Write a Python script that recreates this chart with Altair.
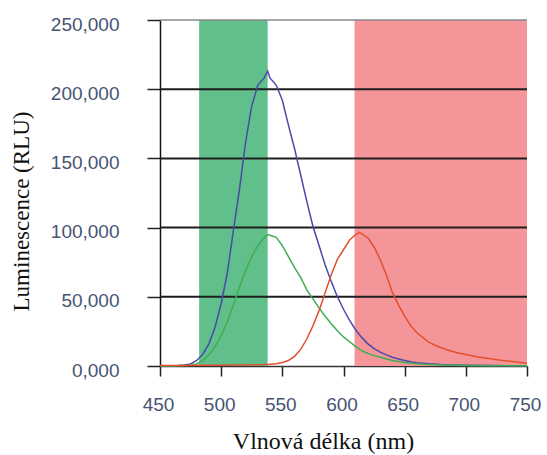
import altair as alt
import pandas as pd

# ---- data ----
blue_nm = [450,455,460,465,470,475,480,485,490,495,500,505,510,515,520,525,530,535,538,540,545,550,555,560,565,570,575,580,585,590,595,600,605,610,615,620,625,630,635,640,645,650,655,660,670,680,690,700,720,750]
blue_val = [0,0,200,400,800,1500,4000,8500,16000,28000,45000,67000,98000,128000,162000,188000,203000,208000,213000,208000,203000,192000,174000,157000,138000,119000,101000,87000,73000,61000,50000,41000,33000,26000,20500,16000,12500,10000,8000,6300,5000,4000,3000,2400,1600,1100,800,600,300,100]

green_nm = [450,460,470,475,480,485,490,495,500,505,510,515,520,525,530,535,538,540,545,550,555,560,565,570,575,580,585,590,595,600,605,610,615,620,625,630,635,640,645,650,660,670,680,700,720,750]
green_val = [0,0,300,600,1500,4000,8000,14000,22000,32000,44000,57000,69000,79000,87000,92500,95000,94500,93000,87000,79000,71000,64000,55000,48500,42000,36000,30500,25500,21000,17500,14000,11000,9000,7500,6500,5000,4000,3200,2500,1600,1100,800,400,200,100]

red_nm = [450,460,470,480,490,500,510,520,530,535,540,545,550,555,560,565,570,575,580,585,590,595,600,605,610,613,615,620,625,630,635,640,645,650,655,660,665,670,675,680,685,690,695,700,710,720,730,740,750]
red_val = [300,300,400,500,500,600,700,800,900,1000,1300,1700,2500,4000,7000,12000,19500,29000,40000,53000,66000,77000,84000,91000,95000,96500,95500,92500,86000,77000,66000,53000,44000,36000,29000,24000,20500,17000,15000,13200,11600,10300,9200,8300,6500,5200,4000,3000,2000]

band_start = [482, 609]
band_end = [538, 750]
band_name = ["green band", "red band"]

grid_values = [50000, 100000, 150000, 200000]
top_value = [250000]
y_ticks = [0, 50000, 100000, 150000, 200000, 250000]
x_ticks = [450, 500, 550, 600, 650, 700, 750]

series_names = ["blue", "green", "red"]
series_colors = ["#4a4aa6", "#3fae50", "#e2502e"]
band_colors = ["#60bf8a", "#f4959a"]

# ---- build tables ----
lines_df = pd.concat([
    pd.DataFrame({"nm": blue_nm, "val": blue_val, "s": "blue"}),
    pd.DataFrame({"nm": green_nm, "val": green_val, "s": "green"}),
    pd.DataFrame({"nm": red_nm, "val": red_val, "s": "red"}),
])
bands_df = pd.DataFrame({"start": band_start, "end": band_end, "b": band_name,
                         "lo": 0, "hi": 250000})
grid_df = pd.DataFrame({"y": grid_values})
top_df = pd.DataFrame({"y": top_value})

xscale = alt.Scale(domain=[450, 750], nice=False, zero=False)
yscale = alt.Scale(domain=[0, 250000], nice=False)

xaxis = alt.Axis(
    values=x_ticks, title="Vlnová délka (nm)", grid=False,
    tickSize=10, tickWidth=1.5, tickColor="#222", domainColor="#333", domainWidth=1.5,
    labelFont="Liberation Sans", labelFontSize=19, labelColor="#475473",
    labelPadding=34, labelBaseline="alphabetic", labelOffset=-2,
    labelFlush=False, labelOverlap=False, labelBound=False,
    titleFont="Liberation Serif", titleFontSize=24, titleFontWeight="normal",
    titleColor="#111", titleX=163, titleY=82, titleBaseline="alphabetic",
)
yaxis = alt.Axis(
    values=y_ticks, title="Luminescence (RLU)", grid=False,
    labelExpr="datum.value == 0 ? '0,000' : format(datum.value, ',')",
    tickSize=13, tickWidth=1.5, tickColor="#222", domainColor="#111", domainWidth=1.5,
    labelFont="Liberation Sans", labelFontSize=19, labelColor="#475473",
    labelPadding=28, labelOffset=4, labelFlush=False, labelOverlap=False,
    titleFont="Liberation Serif", titleFontSize=23, titleFontWeight="normal",
    titleColor="#111", titleX=-127, titleY=191, titleAngle=-90,
)

bands = alt.Chart(bands_df).mark_rect().encode(
    x=alt.X("start:Q", scale=xscale, axis=xaxis),
    x2="end:Q",
    y=alt.Y("lo:Q", scale=yscale, axis=yaxis),
    y2="hi:Q",
    color=alt.Color("b:N", scale=alt.Scale(domain=band_name, range=band_colors), legend=None),
)

grid = alt.Chart(grid_df).mark_rule(color="#1e1e1e", strokeWidth=2).encode(
    y=alt.Y("y:Q", scale=yscale),
)
top = alt.Chart(top_df).mark_rule(color="#8a8a8a", strokeWidth=1.5).encode(
    y=alt.Y("y:Q", scale=yscale),
)

lines = alt.Chart(lines_df).mark_line(strokeWidth=1.5).encode(
    x=alt.X("nm:Q", scale=xscale),
    y=alt.Y("val:Q", scale=yscale),
    color=alt.Color("s:N", scale=alt.Scale(domain=series_names, range=series_colors), legend=None),
    detail="s:N",
)

chart = alt.layer(bands, grid, top, lines).resolve_scale(color="independent").properties(
    width=367, height=346,
    autosize=alt.AutoSizeParams(type="none"),
    padding={"left": 160, "top": 20, "right": 20, "bottom": 89},
    background="white",
).configure_view(stroke=None)

chart.save("out.html", embed_options={"renderer": "svg", "actions": False})
